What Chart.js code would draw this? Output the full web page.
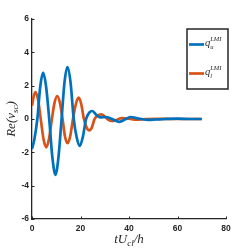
<!DOCTYPE html>
<html><head><meta charset="utf-8">
<script src="https://cdn.jsdelivr.net/npm/chart.js@4/dist/chart.umd.min.js"></script>
<style>html,body{margin:0;padding:0;background:#fff;}#wrap{width:249px;height:249px;}</style>
</head><body><div id="wrap"><canvas id="c" width="249" height="249"></canvas></div>
<script>
const blueT = [0,1,2.2,3.4,4.6,5.8,7.1,8.4,9.7,10.9,12.2,13.4,14.6,15.9,17.2,18.5,19.7,21,22.3,23.6,24.9,26.5,28,30.5,33,36,38.5,40.5,44,48,51,55,60,65,70];
const blueY = [-1.8,-1.2,0,1.95,2.78,1.95,0,-2.3,-3.35,-2.3,0,2.2,3.12,2.2,0,-1.15,-1.62,-1.05,0,0.38,0.48,0.25,0.1,0.12,0,-0.17,-0.02,0.12,0.03,-0.05,-0.03,0,0.02,0,0];
const orangeT = [0,0.7,1.4,2.5,3.6,4.8,5.9,7,8.2,9.3,10.4,11.5,12.6,13.6,14.7,15.8,16.9,18.1,19.2,20.3,21.4,22.5,23.6,24.7,25.8,27,28.6,30,31.5,33,35,37,40,43,47,52,58,64,70];
const orangeY = [0.8,1.35,1.62,1.15,0,-1.25,-1.7,-1.2,0,0.98,1.38,0.98,0,-1.05,-1.45,-1.0,0,0.9,1.28,0.9,0,-0.5,-0.68,-0.5,0,0.2,0.28,0.15,-0.05,-0.12,-0.05,0.05,0.02,-0.04,0,0.01,0,0,0];
const xTicks = [0,20,40,60,80];
const yTicks = [-6,-4,-2,0,2,4,6];
const seriesNames = ['u','l'];
const blueColor = '#0072BD', orangeColor = '#D95319', axisColor = '#262626';

const toPts = (t,y) => t.map((v,i)=>({x:v,y:y[i]}));
const serif = '"Liberation Serif", "DejaVu Serif", serif';

function drawQ(ctx, x, y, sub) {
  ctx.fillStyle = axisColor;
  ctx.textBaseline = 'alphabetic';
  ctx.textAlign = 'left';
  ctx.font = 'italic 10.5px ' + serif;
  ctx.fillText('q', x, y);
  const w = ctx.measureText('q').width;
  ctx.font = 'italic 6.5px ' + serif;
  ctx.fillText(sub, x + w, y + 2.5);
  ctx.fillText('LMI', x + w, y - 5);
}

function drawSubText(ctx, parts, cx, cy) {
  // parts: [main, sub, main]
  const big = 'italic 13px ' + serif, small = 'italic 9px ' + serif;
  ctx.font = big; const w1 = ctx.measureText(parts[0]).width;
  ctx.font = small; const w2 = ctx.measureText(parts[1]).width;
  ctx.font = big; const w3 = ctx.measureText(parts[2]).width;
  const sx = cx - (w1 + w2 + w3) / 2;
  ctx.textBaseline = 'middle'; ctx.textAlign = 'left';
  ctx.font = big; ctx.fillText(parts[0], sx, cy);
  ctx.font = small; ctx.fillText(parts[1], sx + w1, cy + 3.5);
  ctx.font = big; ctx.fillText(parts[2], sx + w1 + w2, cy);
}

const deco = {
  id: 'deco',
  afterDraw(chart) {
    const ctx = chart.ctx, xs = chart.scales.x, ys = chart.scales.y;
    const a = chart.chartArea;
    ctx.save();
    ctx.strokeStyle = axisColor; ctx.lineWidth = 1;
    ctx.beginPath();
    xTicks.forEach(v => { const p = Math.round(xs.getPixelForValue(v)) + 0.5; ctx.moveTo(p, a.bottom); ctx.lineTo(p, a.bottom - 2.5); });
    yTicks.forEach(v => { const p = Math.round(ys.getPixelForValue(v)) + 0.5; ctx.moveTo(a.left, p); ctx.lineTo(a.left + 2.5, p); });
    ctx.stroke();
    ctx.fillStyle = axisColor;
    // y title
    ctx.save();
    ctx.translate(12, (a.top + a.bottom) / 2);
    ctx.rotate(-Math.PI / 2);
    drawSubText(ctx, ['Re(v', 'sc', ')'], 0, 0);
    ctx.restore();
    // x title
    drawSubText(ctx, ['tU', 'cl', '/h'], (a.left + a.right) / 2, 240);
    // legend
    ctx.fillStyle = '#fff';
    ctx.fillRect(187, 29, 41, 60);
    ctx.strokeStyle = axisColor; ctx.lineWidth = 1.5;
    ctx.strokeRect(187, 29, 41, 60);
    ctx.lineWidth = 2.7;
    ctx.strokeStyle = blueColor;
    ctx.beginPath(); ctx.moveTo(189, 44.5); ctx.lineTo(204, 44.5); ctx.stroke();
    ctx.strokeStyle = orangeColor;
    ctx.beginPath(); ctx.moveTo(189, 73.5); ctx.lineTo(204, 73.5); ctx.stroke();
    drawQ(ctx, 205, 46, seriesNames[0]);
    drawQ(ctx, 205, 75, seriesNames[1]);
    ctx.restore();
  }
};

new Chart(document.getElementById('c'), {
  type: 'line',
  data: {
    datasets: [
      { data: toPts(blueT, blueY), borderColor: blueColor, borderWidth: 2.7, pointRadius: 0, cubicInterpolationMode: 'monotone', fill: false },
      { data: toPts(orangeT, orangeY), borderColor: orangeColor, borderWidth: 2.7, pointRadius: 0, cubicInterpolationMode: 'monotone', fill: false }
    ]
  },
  options: {
    responsive: false, animation: false, devicePixelRatio: 1,
    layout: { padding: { left: 0, right: 23, top: 19, bottom: 0 } },
    plugins: { legend: { display: false }, tooltip: { enabled: false } },
    scales: {
      x: {
        type: 'linear', min: 0, max: 80,
        afterBuildTicks: s => { s.ticks = xTicks.map(v => ({ value: v })); },
        afterFit: s => { s.height = 30; },
        grid: { display: true, drawOnChartArea: false, drawTicks: false },
        border: { display: true, color: axisColor, width: 1.3 },
        ticks: { padding: 5, color: axisColor, font: { family: '"Liberation Sans", Arial', size: 8.5, weight: 'bold' }, maxRotation: 0 }
      },
      y: {
        type: 'linear', min: -6, max: 6,
        afterBuildTicks: s => { s.ticks = yTicks.map(v => ({ value: v })); },
        afterFit: s => { s.width = 32; },
        grid: { display: true, drawOnChartArea: false, drawTicks: false },
        border: { display: true, color: axisColor, width: 1.3 },
        ticks: { padding: 3, color: axisColor, font: { family: '"Liberation Sans", Arial', size: 8.5, weight: 'bold' } }
      }
    }
  },
  plugins: [deco]
});
</script></body></html>
